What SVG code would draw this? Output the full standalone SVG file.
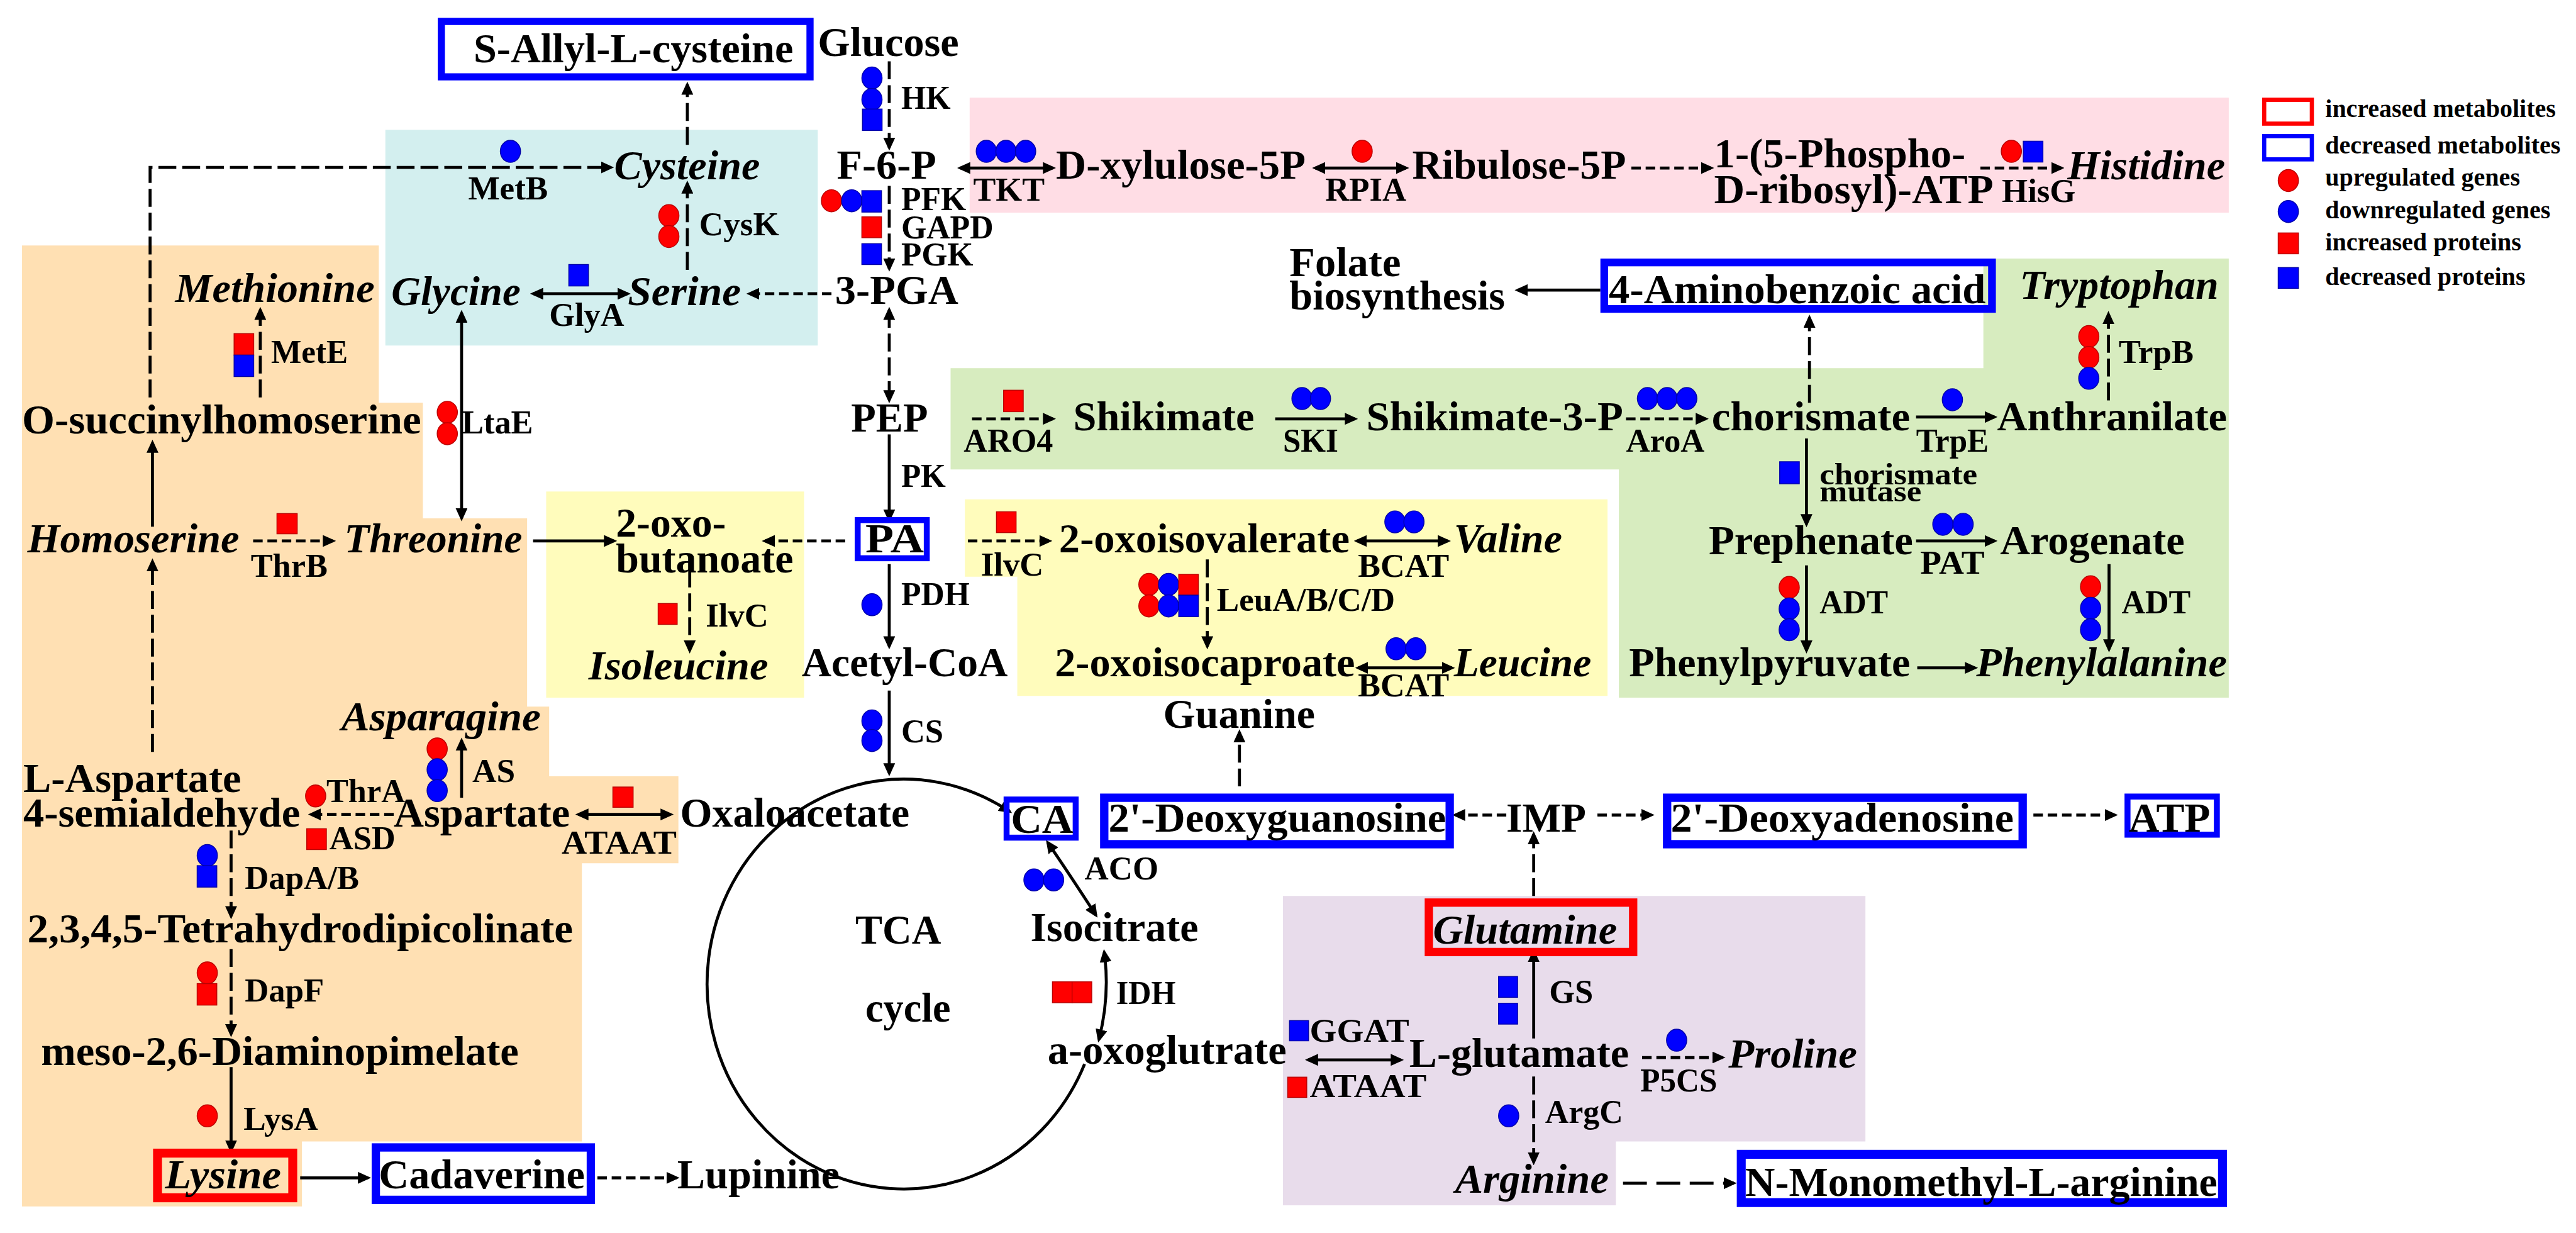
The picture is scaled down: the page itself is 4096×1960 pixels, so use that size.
<svg xmlns="http://www.w3.org/2000/svg" width="4096" height="1960" viewBox="0 0 4096 1960">
<defs>
<style>
.t{font-family:"Liberation Serif","Times New Roman",serif;font-weight:bold;fill:#000}
.m{font-size:70px}
.i{font-style:italic}
.e{font-size:56px}
.s{font-size:52px}
.lg{font-size:42px}
.c{fill:none;stroke:#000;stroke-width:5}
.d1{stroke-dasharray:16 8}
.d2{stroke-dasharray:30 10}
.d3{stroke-dasharray:40 16}
.r{fill:#f00;stroke:#b00;stroke-width:1.5}
.b{fill:#00f;stroke:#00a;stroke-width:1.5}
.bb{fill:none;stroke:#00f}
.rb{fill:none;stroke:#f00}
.ae{marker-end:url(#ah)}
.aa{marker-start:url(#ah);marker-end:url(#ah)}
</style>
<marker id="ah" markerUnits="userSpaceOnUse" viewBox="0 0 22 20" markerWidth="22" markerHeight="20" refX="17" refY="10" orient="auto-start-reverse"><path d="M0,0 L22,10 L0,20 z" fill="#000"/></marker>
</defs>
<rect width="4096" height="1960" fill="#fff"/>
<g transform="scale(0.94705)">
<g id="regions">
<rect x="647" y="218" width="726" height="362" fill="#D3EFEF"/>
<rect x="1628" y="164" width="2114" height="193" fill="#FFDDE5"/>
<polygon points="37,412 636,412 636,676 710,676 710,870 885,870 885,1186 922,1186 922,1303 1139,1303 1139,1449 977,1449 977,1916 507,1916 507,2025 37,2025" fill="#FFE0B3"/>
<rect x="917" y="825" width="433" height="346" fill="#FFFCBC"/>
<polygon points="1620,838 2699,838 2699,1168 1708,1168 1708,968 1620,968" fill="#FFFCBC"/>
<polygon points="1596,618 3330,618 3330,434 3742,434 3742,1171 2718,1171 2718,788 1596,788" fill="#D7ECBF"/>
<polygon points="2154,1504 3132,1504 3132,1916 2713,1916 2713,2023 2154,2023" fill="#E8DCEB"/>
</g>
<g id="connectors">
<path class="c d2 ae" d="M252,667 V281 H1026"/>
<path class="c d2 ae" d="M437,667 V520"/>
<path class="c d2 ae" d="M1154,453 V308"/>
<path class="c d2 ae" d="M1154,243 V142"/>
<path class="c aa" d="M895,493 H1054"/>
<path class="c d1 ae" d="M1396,493 H1258"/>
<path class="c aa" d="M775,525 V870"/>
<path class="c d2 ae" d="M1493,103 V248"/>
<path class="c aa" d="M1612,282 H1768"/>
<path class="c aa" d="M2208,282 H2361"/>
<path class="c d1 ae" d="M2739,282 H2873"/>
<path class="c d1 ae" d="M3325,282 H3461"/>
<path class="c d2 ae" d="M1493,312 V451"/>
<path class="c d2 aa" d="M1493,520 V672"/>
<path class="c ae" d="M2687,487 H2548"/>
<path class="c d2 ae" d="M3038,676 V533"/>
<path class="c d2 ae" d="M3540,672 V527"/>
<path class="c ae" d="M256,884 V743"/>
<path class="c d2 ae" d="M256,1262 V942"/>
<path class="c d1 ae" d="M425,908 H559"/>
<path class="c ae" d="M895,908 H1031"/>
<path class="c d1 ae" d="M1419,908 H1284"/>
<path class="c d2 ae" d="M1158,956 V1092"/>
<path class="c ae" d="M1493,729 V872"/>
<path class="c ae" d="M1493,947 V1085"/>
<path class="c ae" d="M1493,1159 V1298"/>
<path class="c d1 ae" d="M1632,703 H1768"/>
<path class="c ae" d="M2141,703 H2275"/>
<path class="c d1 ae" d="M2730,703 H2864"/>
<path class="c ae" d="M3217,700 H3349"/>
<path class="c ae" d="M3033,736 V880"/>
<path class="c ae" d="M3217,908 H3349"/>
<path class="c ae" d="M3033,949 V1092"/>
<path class="c ae" d="M3541,947 V1090"/>
<path class="c ae" d="M3219,1121 H3316"/>
<path class="c d1 ae" d="M1625,908 H1762"/>
<path class="c aa" d="M2278,908 H2431"/>
<path class="c d2 ae" d="M2027,939 V1085"/>
<path class="c aa" d="M2280,1121 H2438"/>
<path class="c d2 ae" d="M2081,1320 V1229"/>
<path class="c ae" d="M775,1339 V1243"/>
<path class="c d1 ae" d="M661,1367 H522"/>
<path class="c aa" d="M971,1367 H1126"/>
<path class="c d2 ae" d="M388,1394 V1538"/>
<path class="c d2 ae" d="M388,1593 V1736"/>
<path class="c ae" d="M388,1791 V1931"/>
<path class="c ae" d="M504,1977 H618"/>
<path class="c d1 ae" d="M1003,1977 H1136"/>
<path class="c d1 ae" d="M2529,1368 H2443"/>
<path class="c d1 ae" d="M2682,1368 H2773"/>
<path class="c d1 ae" d="M3414,1368 H3551"/>
<path class="c d2 ae" d="M2575,1504 V1400"/>
<path class="c ae" d="M2575,1743 V1598"/>
<path class="c aa" d="M2196,1779 H2352"/>
<path class="c d1 ae" d="M2757,1775 H2892"/>
<path class="c d2 ae" d="M2575,1807 V1951"/>
<path class="c d3 ae" d="M2725,1986 H2911"/>
<path class="c aa" d="M1759,1414 Q1792,1462 1840,1536"/>
<path class="c aa" d="M1854,1598 Q1864,1672 1845,1745"/>
<path class="c ae" d="M1821,1786 A330,344 0 1 1 1695,1362"/>
</g>
<g id="legend">
<rect x="3801.5" y="167.5" width="80" height="40" class="rb" stroke-width="7"/>
<rect x="3801.5" y="228.5" width="80" height="39" class="bb" stroke-width="7"/>
<ellipse cx="3842" cy="303" rx="17" ry="18.5" class="r"/>
<ellipse cx="3842" cy="355" rx="17" ry="18.5" class="b"/>
<rect x="3825" y="391" width="34" height="35" class="r"/>
<rect x="3825" y="449" width="34" height="35" class="b"/>
<text class="t lg" x="3904" y="196" textLength="387" lengthAdjust="spacingAndGlyphs">increased metabolites</text>
<text class="t lg" x="3904" y="258" textLength="395" lengthAdjust="spacingAndGlyphs">decreased metabolites</text>
<text class="t lg" x="3904" y="312" textLength="327" lengthAdjust="spacingAndGlyphs">upregulated genes</text>
<text class="t lg" x="3904" y="366" textLength="378" lengthAdjust="spacingAndGlyphs">downregulated genes</text>
<text class="t lg" x="3904" y="420" textLength="329" lengthAdjust="spacingAndGlyphs">increased proteins</text>
<text class="t lg" x="3904" y="478" textLength="336" lengthAdjust="spacingAndGlyphs">decreased proteins</text>
</g>
<g id="boxes">
<rect x="741" y="36" width="619" height="93" class="bb" stroke-width="12"/>
<rect x="2693.5" y="440.5" width="651" height="78" class="bb" stroke-width="13" fill="#fff"/>
<rect x="1440" y="873" width="116" height="64" class="bb" stroke-width="10"/>
<rect x="1690" y="1342" width="116" height="64" class="bb" stroke-width="10"/>
<rect x="1854" y="1339" width="580" height="78" class="bb" stroke-width="14"/>
<rect x="2799" y="1339" width="597" height="78" class="bb" stroke-width="14"/>
<rect x="3572" y="1337" width="150" height="64" class="bb" stroke-width="10"/>
<rect x="2399" y="1515" width="343" height="83" class="rb" stroke-width="14"/>
<rect x="264.5" y="1935.5" width="227" height="75" class="rb" stroke-width="15"/>
<rect x="631" y="1926" width="361" height="88" class="bb" stroke-width="14"/>
<rect x="2923.5" y="1937.5" width="808" height="81" class="bb" stroke-width="15"/>
</g>
<g id="metabolites">
<g id="n-sallyl"><text class="t m" x="795" y="105" textLength="537" lengthAdjust="spacingAndGlyphs">S-Allyl-L-cysteine</text></g>
<g id="n-glucose"><text class="t m" x="1373" y="94" textLength="237" lengthAdjust="spacingAndGlyphs">Glucose</text></g>
<g id="n-f6p"><text class="t m" x="1405" y="300" textLength="167" lengthAdjust="spacingAndGlyphs">F-6-P</text></g>
<g id="n-xyl"><text class="t m" x="1773" y="300" textLength="419" lengthAdjust="spacingAndGlyphs">D-xylulose-5P</text></g>
<g id="n-rib"><text class="t m" x="2371" y="300" textLength="359" lengthAdjust="spacingAndGlyphs">Ribulose-5P</text></g>
<g id="n-prpp"><text class="t m" x="2878" y="281" textLength="422" lengthAdjust="spacingAndGlyphs">1-(5-Phospho-</text><text class="t m" x="2878" y="341" textLength="469" lengthAdjust="spacingAndGlyphs">D-ribosyl)-ATP</text></g>
<g id="n-his"><text class="t m i" x="3471" y="301" textLength="265" lengthAdjust="spacingAndGlyphs">Histidine</text></g>
<g id="n-cys"><text class="t m i" x="1031" y="301" textLength="245" lengthAdjust="spacingAndGlyphs">Cysteine</text></g>
<g id="n-met"><text class="t m i" x="294" y="507" textLength="335" lengthAdjust="spacingAndGlyphs">Methionine</text></g>
<g id="n-gly"><text class="t m i" x="657" y="512" textLength="217" lengthAdjust="spacingAndGlyphs">Glycine</text></g>
<g id="n-ser"><text class="t m i" x="1054" y="512" textLength="190" lengthAdjust="spacingAndGlyphs">Serine</text></g>
<g id="n-3pga"><text class="t m" x="1402" y="510" textLength="207" lengthAdjust="spacingAndGlyphs">3-PGA</text></g>
<g id="n-folate"><text class="t m" x="2165" y="464" textLength="187" lengthAdjust="spacingAndGlyphs">Folate</text><text class="t m" x="2165" y="520" textLength="362" lengthAdjust="spacingAndGlyphs">biosynthesis</text></g>
<g id="n-pab"><text class="t m" x="2701" y="509" textLength="633" lengthAdjust="spacingAndGlyphs">4-Aminobenzoic acid</text></g>
<g id="n-trp"><text class="t m i" x="3391" y="502" textLength="334" lengthAdjust="spacingAndGlyphs">Tryptophan</text></g>
<g id="n-osh"><text class="t m" x="37" y="727" textLength="670" lengthAdjust="spacingAndGlyphs">O-succinylhomoserine</text></g>
<g id="n-pep"><text class="t m" x="1429" y="724" textLength="129" lengthAdjust="spacingAndGlyphs">PEP</text></g>
<g id="n-shik"><text class="t m" x="1802" y="722" textLength="304" lengthAdjust="spacingAndGlyphs">Shikimate</text></g>
<g id="n-s3p"><text class="t m" x="2294" y="722" textLength="431" lengthAdjust="spacingAndGlyphs">Shikimate-3-P</text></g>
<g id="n-chor"><text class="t m" x="2874" y="722" textLength="333" lengthAdjust="spacingAndGlyphs">chorismate</text></g>
<g id="n-anth"><text class="t m" x="3353" y="722" textLength="386" lengthAdjust="spacingAndGlyphs">Anthranilate</text></g>
<g id="n-hser"><text class="t m i" x="46" y="927" textLength="356" lengthAdjust="spacingAndGlyphs">Homoserine</text></g>
<g id="n-thr"><text class="t m i" x="578" y="927" textLength="299" lengthAdjust="spacingAndGlyphs">Threonine</text></g>
<g id="n-oxobut"><text class="t m" x="1034" y="901" textLength="185" lengthAdjust="spacingAndGlyphs">2-oxo-</text><text class="t m" x="1034" y="961" textLength="298" lengthAdjust="spacingAndGlyphs">butanoate</text></g>
<g id="n-pa"><text class="t m" x="1453" y="927" textLength="98" lengthAdjust="spacingAndGlyphs">PA</text></g>
<g id="n-oiv"><text class="t m" x="1778" y="927" textLength="488" lengthAdjust="spacingAndGlyphs">2-oxoisovalerate</text></g>
<g id="n-val"><text class="t m i" x="2441" y="927" textLength="182" lengthAdjust="spacingAndGlyphs">Valine</text></g>
<g id="n-preph"><text class="t m" x="2869" y="930" textLength="343" lengthAdjust="spacingAndGlyphs">Prephenate</text></g>
<g id="n-arog"><text class="t m" x="3358" y="930" textLength="310" lengthAdjust="spacingAndGlyphs">Arogenate</text></g>
<g id="n-ile"><text class="t m i" x="988" y="1140" textLength="302" lengthAdjust="spacingAndGlyphs">Isoleucine</text></g>
<g id="n-accoa"><text class="t m" x="1346" y="1135" textLength="346" lengthAdjust="spacingAndGlyphs">Acetyl-CoA</text></g>
<g id="n-oic"><text class="t m" x="1771" y="1135" textLength="504" lengthAdjust="spacingAndGlyphs">2-oxoisocaproate</text></g>
<g id="n-leu"><text class="t m i" x="2441" y="1135" textLength="231" lengthAdjust="spacingAndGlyphs">Leucine</text></g>
<g id="n-phpyr"><text class="t m" x="2735" y="1135" textLength="472" lengthAdjust="spacingAndGlyphs">Phenylpyruvate</text></g>
<g id="n-phe"><text class="t m i" x="3318" y="1135" textLength="421" lengthAdjust="spacingAndGlyphs">Phenylalanine</text></g>
<g id="n-gua"><text class="t m" x="1953" y="1222" textLength="255" lengthAdjust="spacingAndGlyphs">Guanine</text></g>
<g id="n-asn"><text class="t m i" x="573" y="1226" textLength="335" lengthAdjust="spacingAndGlyphs">Asparagine</text></g>
<g id="n-asa"><text class="t m" x="39" y="1329" textLength="366" lengthAdjust="spacingAndGlyphs">L-Aspartate</text><text class="t m" x="39" y="1387" textLength="465" lengthAdjust="spacingAndGlyphs">4-semialdehyde</text></g>
<g id="n-asp"><text class="t m" x="661" y="1387" textLength="296" lengthAdjust="spacingAndGlyphs">Aspartate</text></g>
<g id="n-oaa"><text class="t m" x="1142" y="1387" textLength="385" lengthAdjust="spacingAndGlyphs">Oxaloacetate</text></g>
<g id="n-ca"><text class="t m" x="1697" y="1398" textLength="105" lengthAdjust="spacingAndGlyphs">CA</text></g>
<g id="n-dg"><text class="t m" x="1861" y="1396" textLength="567" lengthAdjust="spacingAndGlyphs">2'-Deoxyguanosine</text></g>
<g id="n-imp"><text class="t m" x="2529" y="1396" textLength="134" lengthAdjust="spacingAndGlyphs">IMP</text></g>
<g id="n-da"><text class="t m" x="2805" y="1396" textLength="576" lengthAdjust="spacingAndGlyphs">2'-Deoxyadenosine</text></g>
<g id="n-atp"><text class="t m" x="3574" y="1396" textLength="137" lengthAdjust="spacingAndGlyphs">ATP</text></g>
<g id="n-tca"><text class="t m" x="1436" y="1584" textLength="144" lengthAdjust="spacingAndGlyphs">TCA</text><text class="t m" x="1453" y="1715" textLength="143" lengthAdjust="spacingAndGlyphs">cycle</text></g>
<g id="n-icit"><text class="t m" x="1730" y="1580" textLength="282" lengthAdjust="spacingAndGlyphs">Isocitrate</text></g>
<g id="n-gln"><text class="t m i" x="2406" y="1584" textLength="309" lengthAdjust="spacingAndGlyphs">Glutamine</text></g>
<g id="n-thdp"><text class="t m" x="46" y="1582" textLength="916" lengthAdjust="spacingAndGlyphs">2,3,4,5-Tetrahydrodipicolinate</text></g>
<g id="n-dap"><text class="t m" x="69" y="1788" textLength="802" lengthAdjust="spacingAndGlyphs">meso-2,6-Diaminopimelate</text></g>
<g id="n-akg"><text class="t m" x="1759" y="1786" textLength="401" lengthAdjust="spacingAndGlyphs">a-oxoglutrate</text></g>
<g id="n-glu"><text class="t m" x="2366" y="1791" textLength="369" lengthAdjust="spacingAndGlyphs">L-glutamate</text></g>
<g id="n-pro"><text class="t m i" x="2902" y="1792" textLength="216" lengthAdjust="spacingAndGlyphs">Proline</text></g>
<g id="n-lys"><text class="t m i" x="277" y="1995" textLength="195" lengthAdjust="spacingAndGlyphs">Lysine</text></g>
<g id="n-cad"><text class="t m" x="636" y="1995" textLength="346" lengthAdjust="spacingAndGlyphs">Cadaverine</text></g>
<g id="n-lup"><text class="t m" x="1137" y="1995" textLength="273" lengthAdjust="spacingAndGlyphs">Lupinine</text></g>
<g id="n-arg"><text class="t m i" x="2443" y="2002" textLength="258" lengthAdjust="spacingAndGlyphs">Arginine</text></g>
<g id="n-nmma"><text class="t m" x="2930" y="2007" textLength="793" lengthAdjust="spacingAndGlyphs">N-Monomethyl-L-arginine</text></g>
</g>
<g id="enzymes">
<g id="z-metb"><ellipse cx="857" cy="254" rx="17" ry="18.5" class="b"/><text class="t e" x="786" y="335" textLength="134" lengthAdjust="spacingAndGlyphs">MetB</text></g>
<g id="z-cysk"><ellipse cx="1123" cy="362" rx="17" ry="18.5" class="r"/><ellipse cx="1123" cy="397" rx="17" ry="18.5" class="r"/><text class="t e" x="1174" y="395" textLength="134" lengthAdjust="spacingAndGlyphs">CysK</text></g>
<g id="z-glya"><rect x="955" y="444" width="33" height="36" class="b"/><text class="t e" x="922" y="547" textLength="126" lengthAdjust="spacingAndGlyphs">GlyA</text></g>
<g id="z-mete"><rect x="393" y="560" width="33" height="36" class="r"/><rect x="393" y="596" width="33" height="36" class="b"/><text class="t e" x="455" y="609" textLength="129" lengthAdjust="spacingAndGlyphs">MetE</text></g>
<g id="z-hk"><ellipse cx="1464" cy="131" rx="17" ry="18.5" class="b"/><ellipse cx="1464" cy="167" rx="17" ry="18.5" class="b"/><rect x="1448" y="183" width="33" height="36" class="b"/><text class="t e" x="1513" y="183" textLength="83" lengthAdjust="spacingAndGlyphs">HK</text></g>
<g id="z-tkt"><ellipse cx="1656" cy="254" rx="17" ry="18.5" class="b"/><ellipse cx="1689" cy="254" rx="17" ry="18.5" class="b"/><ellipse cx="1722" cy="254" rx="17" ry="18.5" class="b"/><text class="t e" x="1634" y="337" textLength="120" lengthAdjust="spacingAndGlyphs">TKT</text></g>
<g id="z-rpia"><ellipse cx="2287" cy="254" rx="17" ry="18.5" class="r"/><text class="t e" x="2225" y="337" textLength="136" lengthAdjust="spacingAndGlyphs">RPIA</text></g>
<g id="z-hisg"><ellipse cx="3377" cy="254" rx="17" ry="18.5" class="r"/><rect x="3397" y="237" width="33" height="35" class="b"/><text class="t e" x="3361" y="339" textLength="124" lengthAdjust="spacingAndGlyphs">HisG</text></g>
<g id="z-pfk"><ellipse cx="1396" cy="337" rx="17" ry="18.5" class="r"/><ellipse cx="1430" cy="337" rx="17" ry="18.5" class="b"/><rect x="1447" y="320" width="33" height="36" class="b"/><text class="t e" x="1513" y="353" textLength="109" lengthAdjust="spacingAndGlyphs">PFK</text></g>
<g id="z-gapd"><rect x="1447" y="364" width="33" height="35" class="r"/><text class="t e" x="1513" y="400" textLength="155" lengthAdjust="spacingAndGlyphs">GAPD</text></g>
<g id="z-pgk"><rect x="1447" y="409" width="33" height="35" class="b"/><text class="t e" x="1513" y="446" textLength="121" lengthAdjust="spacingAndGlyphs">PGK</text></g>
<g id="z-trpb"><ellipse cx="3507" cy="565" rx="17" ry="18.5" class="r"/><ellipse cx="3507" cy="600" rx="17" ry="18.5" class="r"/><ellipse cx="3507" cy="635" rx="17" ry="18.5" class="b"/><text class="t e" x="3557" y="609" textLength="126" lengthAdjust="spacingAndGlyphs">TrpB</text></g>
<g id="z-ltae"><ellipse cx="751" cy="692" rx="17" ry="18.5" class="r"/><ellipse cx="751" cy="728" rx="17" ry="18.5" class="r"/><text class="t e" x="775" y="727" textLength="120" lengthAdjust="spacingAndGlyphs">LtaE</text></g>
<g id="z-aro4"><rect x="1685" y="655" width="33" height="36" class="r"/><text class="t e" x="1618" y="758" textLength="150" lengthAdjust="spacingAndGlyphs">ARO4</text></g>
<g id="z-ski"><ellipse cx="2186" cy="669" rx="17" ry="18.5" class="b"/><ellipse cx="2217" cy="669" rx="17" ry="18.5" class="b"/><text class="t e" x="2154" y="758" textLength="93" lengthAdjust="spacingAndGlyphs">SKI</text></g>
<g id="z-aroa"><ellipse cx="2766" cy="669" rx="17" ry="18.5" class="b"/><ellipse cx="2799" cy="669" rx="17" ry="18.5" class="b"/><ellipse cx="2832" cy="669" rx="17" ry="18.5" class="b"/><text class="t e" x="2730" y="758" textLength="132" lengthAdjust="spacingAndGlyphs">AroA</text></g>
<g id="z-trpe"><ellipse cx="3278" cy="671" rx="17" ry="18.5" class="b"/><text class="t e" x="3217" y="758" textLength="122" lengthAdjust="spacingAndGlyphs">TrpE</text></g>
<g id="z-pk"><text class="t e" x="1513" y="817" textLength="75" lengthAdjust="spacingAndGlyphs">PK</text></g>
<g id="z-cm"><rect x="2988" y="775" width="33" height="37" class="b"/><text class="t s" x="3055" y="813" textLength="265" lengthAdjust="spacingAndGlyphs">chorismate</text><text class="t s" x="3055" y="842" textLength="171" lengthAdjust="spacingAndGlyphs">mutase</text></g>
<g id="z-thrb"><rect x="465" y="862" width="34" height="34" class="r"/><text class="t e" x="421" y="968" textLength="129" lengthAdjust="spacingAndGlyphs">ThrB</text></g>
<g id="z-ilvc1"><rect x="1105" y="1013" width="32" height="35" class="r"/><text class="t e" x="1185" y="1052" textLength="105" lengthAdjust="spacingAndGlyphs">IlvC</text></g>
<g id="z-ilvc2"><rect x="1673" y="859" width="33" height="35" class="r"/><text class="t e" x="1647" y="966" textLength="105" lengthAdjust="spacingAndGlyphs">IlvC</text></g>
<g id="z-bcat1"><ellipse cx="2342" cy="876" rx="17" ry="18.5" class="b"/><ellipse cx="2374" cy="876" rx="17" ry="18.5" class="b"/><text class="t e" x="2280" y="968" textLength="153" lengthAdjust="spacingAndGlyphs">BCAT</text></g>
<g id="z-pat"><ellipse cx="3262" cy="880" rx="17" ry="18.5" class="b"/><ellipse cx="3296" cy="880" rx="17" ry="18.5" class="b"/><text class="t e" x="3224" y="963" textLength="108" lengthAdjust="spacingAndGlyphs">PAT</text></g>
<g id="z-pdh"><ellipse cx="1464" cy="1015" rx="17" ry="18.5" class="b"/><text class="t e" x="1513" y="1016" textLength="115" lengthAdjust="spacingAndGlyphs">PDH</text></g>
<g id="z-leu"><ellipse cx="1929" cy="981" rx="17" ry="18.5" class="r"/><ellipse cx="1929" cy="1017" rx="17" ry="18.5" class="r"/><ellipse cx="1962" cy="981" rx="17" ry="18.5" class="b"/><ellipse cx="1962" cy="1017" rx="17" ry="18.5" class="b"/><rect x="1979" y="964" width="33" height="35" class="r"/><rect x="1979" y="999" width="33" height="36" class="b"/><text class="t e" x="2043" y="1025" textLength="299" lengthAdjust="spacingAndGlyphs">LeuA/B/C/D</text></g>
<g id="z-adt1"><ellipse cx="3004" cy="986" rx="17" ry="18.5" class="r"/><ellipse cx="3004" cy="1022" rx="17" ry="18.5" class="b"/><ellipse cx="3004" cy="1057" rx="17" ry="18.5" class="b"/><text class="t e" x="3055" y="1030" textLength="115" lengthAdjust="spacingAndGlyphs">ADT</text></g>
<g id="z-adt2"><ellipse cx="3510" cy="985" rx="17" ry="18.5" class="r"/><ellipse cx="3510" cy="1021" rx="17" ry="18.5" class="b"/><ellipse cx="3510" cy="1057" rx="17" ry="18.5" class="b"/><text class="t e" x="3562" y="1030" textLength="116" lengthAdjust="spacingAndGlyphs">ADT</text></g>
<g id="z-bcat2"><ellipse cx="2344" cy="1089" rx="17" ry="18.5" class="b"/><ellipse cx="2377" cy="1089" rx="17" ry="18.5" class="b"/><text class="t e" x="2280" y="1169" textLength="153" lengthAdjust="spacingAndGlyphs">BCAT</text></g>
<g id="z-cs"><ellipse cx="1464" cy="1210" rx="17" ry="18.5" class="b"/><ellipse cx="1464" cy="1243" rx="17" ry="18.5" class="b"/><text class="t e" x="1513" y="1246" textLength="71" lengthAdjust="spacingAndGlyphs">CS</text></g>
<g id="z-as"><ellipse cx="734" cy="1257" rx="17" ry="18.5" class="r"/><ellipse cx="734" cy="1292" rx="17" ry="18.5" class="b"/><ellipse cx="734" cy="1327" rx="17" ry="18.5" class="b"/><text class="t e" x="793" y="1313" textLength="72" lengthAdjust="spacingAndGlyphs">AS</text></g>
<g id="z-thra"><ellipse cx="530" cy="1336" rx="17" ry="18.5" class="r"/><text class="t e" x="548" y="1346" textLength="132" lengthAdjust="spacingAndGlyphs">ThrA</text></g>
<g id="z-asd"><rect x="515" y="1391" width="33" height="35" class="r"/><text class="t e" x="553" y="1426" textLength="111" lengthAdjust="spacingAndGlyphs">ASD</text></g>
<g id="z-ataat1"><rect x="1029" y="1321" width="34" height="34" class="r"/><text class="t e" x="943" y="1433" textLength="193" lengthAdjust="spacingAndGlyphs">ATAAT</text></g>
<g id="z-dapab"><ellipse cx="348" cy="1436" rx="17" ry="18.5" class="b"/><rect x="331" y="1453" width="33" height="36" class="b"/><text class="t e" x="411" y="1492" textLength="192" lengthAdjust="spacingAndGlyphs">DapA/B</text></g>
<g id="z-dapf"><ellipse cx="348" cy="1633" rx="17" ry="18.5" class="r"/><rect x="331" y="1651" width="33" height="36" class="r"/><text class="t e" x="411" y="1681" textLength="133" lengthAdjust="spacingAndGlyphs">DapF</text></g>
<g id="z-lysa"><ellipse cx="348" cy="1873" rx="17" ry="18.5" class="r"/><text class="t e" x="409" y="1896" textLength="125" lengthAdjust="spacingAndGlyphs">LysA</text></g>
<g id="z-aco"><ellipse cx="1736" cy="1477" rx="17" ry="18.5" class="b"/><ellipse cx="1769" cy="1477" rx="17" ry="18.5" class="b"/><text class="t e" x="1821" y="1476" textLength="124" lengthAdjust="spacingAndGlyphs">ACO</text></g>
<g id="z-idh"><rect x="1767" y="1648" width="33" height="35" class="r"/><rect x="1800" y="1648" width="33" height="35" class="r"/><text class="t e" x="1874" y="1685" textLength="100" lengthAdjust="spacingAndGlyphs">IDH</text></g>
<g id="z-gs"><rect x="2516" y="1639" width="32" height="35" class="b"/><rect x="2516" y="1684" width="32" height="35" class="b"/><text class="t e" x="2601" y="1683" textLength="74" lengthAdjust="spacingAndGlyphs">GS</text></g>
<g id="z-ggat"><rect x="2165" y="1713" width="32" height="34" class="b"/><text class="t e" x="2199" y="1749" textLength="167" lengthAdjust="spacingAndGlyphs">GGAT</text></g>
<g id="z-ataat2"><rect x="2162" y="1808" width="32" height="34" class="r"/><text class="t e" x="2199" y="1841" textLength="196" lengthAdjust="spacingAndGlyphs">ATAAT</text></g>
<g id="z-p5cs"><ellipse cx="2815" cy="1746" rx="17" ry="18.5" class="b"/><text class="t e" x="2754" y="1832" textLength="129" lengthAdjust="spacingAndGlyphs">P5CS</text></g>
<g id="z-argc"><ellipse cx="2533" cy="1873" rx="17" ry="18.5" class="b"/><text class="t e" x="2594" y="1885" textLength="131" lengthAdjust="spacingAndGlyphs">ArgC</text></g>
</g>
</g>
</svg>
